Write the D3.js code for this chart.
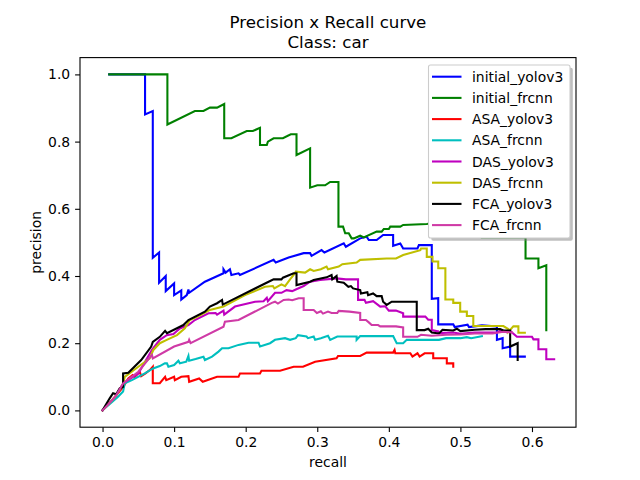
<html>
<head>
<meta charset="utf-8">
<script src="https://d3js.org/d3.v7.min.js"></script>
<style>
  body { margin: 0; background: #fff; }
  text { font-family: "DejaVu Sans", sans-serif; }
</style>
</head>
<body>
<script>
// precision x recall points [recall, precision]
var initialYolov3 = [[0.0093,1.0],[0.0594,1.0],[0.0594,0.881],[0.0702,0.891],[0.0702,0.454],[0.079,0.47],[0.079,0.38],[0.0883,0.40],[0.0883,0.355],[0.1,0.378],[0.1,0.343],[0.11,0.357],[0.11,0.33],[0.1177,0.343],[0.12,0.36],[0.121,0.35],[0.143,0.383],[0.169,0.408],[0.169,0.42],[0.172,0.41],[0.178,0.42],[0.18,0.403],[0.19,0.408],[0.192,0.403],[0.239,0.448],[0.242,0.44],[0.26,0.455],[0.281,0.468],[0.29,0.468],[0.292,0.46],[0.306,0.477],[0.31,0.47],[0.337,0.497],[0.34,0.487],[0.36,0.512],[0.369,0.517],[0.372,0.507],[0.383,0.507],[0.392,0.522],[0.406,0.522],[0.406,0.49],[0.416,0.497],[0.42,0.482],[0.44,0.482],[0.442,0.492],[0.46,0.492],[0.46,0.332],[0.469,0.334],[0.469,0.256],[0.49,0.256],[0.492,0.248],[0.51,0.255],[0.512,0.248],[0.53,0.253],[0.551,0.25],[0.551,0.21],[0.559,0.215],[0.559,0.185],[0.5695,0.19],[0.5695,0.16],[0.59,0.16]];
var initialFrcnn = [[0.0093,1.0],[0.0906,1.0],[0.0906,0.851],[0.129,0.891],[0.141,0.891],[0.150,0.901],[0.160,0.901],[0.170,0.912],[0.170,0.81],[0.180,0.81],[0.2015,0.8315],[0.21,0.8315],[0.220,0.841],[0.220,0.79],[0.2295,0.79],[0.231,0.80],[0.239,0.81],[0.252,0.81],[0.263,0.822],[0.271,0.822],[0.271,0.76],[0.290,0.78],[0.290,0.663],[0.300,0.67],[0.311,0.67],[0.318,0.68],[0.3296,0.68],[0.3296,0.547],[0.336,0.547],[0.339,0.527],[0.344,0.527],[0.348,0.512],[0.351,0.512],[0.36,0.52],[0.365,0.515],[0.383,0.532],[0.39,0.532],[0.393,0.54],[0.40,0.54],[0.402,0.547],[0.416,0.547],[0.42,0.552],[0.453,0.555],[0.47,0.56],[0.47,0.53],[0.50,0.54],[0.50,0.52],[0.53,0.53],[0.53,0.515],[0.591,0.515],[0.591,0.452],[0.609,0.452],[0.609,0.423],[0.62,0.432],[0.62,0.239]];
var asaYolov3 = [[0,0],[0.0175,0.041],[0.029,0.07],[0.036,0.095],[0.042,0.105],[0.045,0.1],[0.052,0.115],[0.054,0.102],[0.06,0.11],[0.066,0.12],[0.0702,0.13],[0.0702,0.081],[0.08,0.081],[0.0874,0.10],[0.089,0.09],[0.1,0.1],[0.101,0.09],[0.11,0.1],[0.12,0.102],[0.121,0.085],[0.135,0.095],[0.14,0.085],[0.16,0.1],[0.19,0.1],[0.192,0.11],[0.22,0.11],[0.222,0.118],[0.248,0.118],[0.267,0.13],[0.28,0.13],[0.297,0.145],[0.327,0.155],[0.329,0.162],[0.36,0.162],[0.369,0.172],[0.406,0.172],[0.408,0.18],[0.409,0.17],[0.43,0.17],[0.433,0.16],[0.44,0.17],[0.443,0.16],[0.45,0.17],[0.462,0.17],[0.462,0.155],[0.481,0.155],[0.481,0.14],[0.49,0.14],[0.49,0.13]];
var asaFrcnn = [[0,0],[0.0217,0.041],[0.0287,0.056],[0.031,0.081],[0.041,0.09],[0.059,0.11],[0.0706,0.125],[0.08,0.132],[0.087,0.14],[0.09,0.14],[0.092,0.13],[0.1,0.135],[0.106,0.148],[0.108,0.14],[0.117,0.145],[0.12,0.162],[0.121,0.148],[0.13,0.153],[0.141,0.16],[0.143,0.15],[0.153,0.16],[0.162,0.175],[0.167,0.185],[0.176,0.185],[0.19,0.195],[0.204,0.2015],[0.218,0.2015],[0.22,0.19],[0.234,0.2],[0.241,0.21],[0.255,0.215],[0.262,0.21],[0.27,0.215],[0.273,0.224],[0.285,0.22],[0.287,0.215],[0.295,0.22],[0.297,0.21],[0.305,0.215],[0.315,0.222],[0.318,0.21],[0.328,0.22],[0.355,0.22],[0.355,0.21],[0.36,0.221],[0.406,0.221],[0.411,0.2],[0.42,0.2],[0.425,0.21],[0.47,0.21],[0.48,0.215],[0.5,0.215],[0.509,0.218],[0.515,0.215],[0.53,0.221]];
var dasYolov3 = [[0,0],[0.0175,0.04],[0.029,0.081],[0.05,0.11],[0.069,0.18],[0.08,0.21],[0.0897,0.224],[0.099,0.227],[0.108,0.244],[0.12,0.254],[0.129,0.269],[0.148,0.289],[0.158,0.29],[0.16,0.285],[0.169,0.297],[0.17,0.285],[0.185,0.309],[0.213,0.3235],[0.225,0.325],[0.2295,0.335],[0.231,0.325],[0.241,0.35],[0.25,0.35],[0.257,0.358],[0.265,0.355],[0.27,0.36],[0.281,0.37],[0.29,0.383],[0.304,0.388],[0.327,0.393],[0.34,0.39],[0.357,0.39],[0.357,0.329],[0.366,0.329],[0.368,0.32],[0.378,0.325],[0.388,0.309],[0.395,0.31],[0.4,0.297],[0.41,0.297],[0.42,0.289],[0.42,0.279],[0.451,0.279],[0.455,0.27],[0.46,0.27],[0.46,0.239],[0.469,0.235],[0.469,0.23],[0.49,0.232],[0.5,0.228],[0.52,0.232],[0.551,0.232],[0.558,0.239],[0.565,0.232],[0.57,0.236],[0.579,0.219],[0.6,0.219],[0.602,0.2115],[0.609,0.2115],[0.609,0.182],[0.62,0.182],[0.62,0.152],[0.631,0.152]];
var dasFrcnn = [[0,0],[0.0175,0.04],[0.029,0.08],[0.031,0.1],[0.05,0.13],[0.066,0.155],[0.071,0.18],[0.08,0.2],[0.0897,0.21],[0.104,0.224],[0.115,0.244],[0.122,0.269],[0.134,0.281],[0.15,0.299],[0.169,0.309],[0.199,0.343],[0.227,0.368],[0.238,0.37],[0.24,0.363],[0.25,0.375],[0.255,0.37],[0.262,0.39],[0.267,0.403],[0.27,0.413],[0.283,0.41],[0.29,0.42],[0.295,0.415],[0.305,0.42],[0.313,0.428],[0.315,0.42],[0.33,0.428],[0.335,0.435],[0.355,0.44],[0.36,0.448],[0.397,0.452],[0.41,0.452],[0.42,0.4625],[0.444,0.477],[0.445,0.482],[0.453,0.482],[0.453,0.457],[0.461,0.457],[0.461,0.443],[0.469,0.443],[0.469,0.423],[0.479,0.423],[0.479,0.33],[0.49,0.33],[0.49,0.32],[0.4997,0.32],[0.4997,0.294],[0.509,0.294],[0.509,0.281],[0.518,0.281],[0.518,0.251],[0.56,0.251],[0.567,0.242],[0.567,0.234],[0.574,0.25],[0.581,0.25],[0.581,0.231],[0.59,0.231]];
var fcaYolov3 = [[0,0],[0.01,0.036],[0.0147,0.051],[0.019,0.048],[0.024,0.066],[0.0287,0.07],[0.0287,0.11],[0.036,0.112],[0.054,0.15],[0.068,0.19],[0.0702,0.204],[0.08,0.219],[0.0874,0.237],[0.09,0.23],[0.113,0.254],[0.12,0.269],[0.143,0.294],[0.15,0.309],[0.16,0.319],[0.167,0.3286],[0.168,0.315],[0.232,0.383],[0.239,0.39],[0.25,0.39],[0.252,0.395],[0.267,0.408],[0.271,0.408],[0.271,0.373],[0.29,0.383],[0.295,0.388],[0.313,0.396],[0.32,0.403],[0.321,0.39],[0.327,0.4],[0.328,0.383],[0.337,0.38],[0.3435,0.368],[0.347,0.37],[0.35,0.363],[0.36,0.358],[0.361,0.348],[0.37,0.352],[0.371,0.343],[0.378,0.348],[0.383,0.34],[0.39,0.34],[0.392,0.3235],[0.397,0.314],[0.404,0.3235],[0.439,0.3235],[0.439,0.239],[0.45,0.239],[0.455,0.243],[0.46,0.232],[0.47,0.229],[0.475,0.24],[0.49,0.238],[0.495,0.243],[0.5,0.236],[0.52,0.24],[0.535,0.242],[0.5555,0.242],[0.56,0.238],[0.5695,0.238],[0.5695,0.19],[0.58,0.2],[0.58,0.15]];
var fcaFrcnn = [[0,0],[0.0175,0.04],[0.029,0.081],[0.05,0.115],[0.069,0.165],[0.0702,0.155],[0.1,0.19],[0.12,0.204],[0.121,0.21],[0.123,0.2],[0.169,0.249],[0.171,0.264],[0.19,0.269],[0.2365,0.32],[0.241,0.3235],[0.245,0.318],[0.253,0.3286],[0.26,0.33],[0.265,0.328],[0.274,0.334],[0.281,0.334],[0.281,0.299],[0.295,0.299],[0.2995,0.29],[0.305,0.295],[0.308,0.288],[0.315,0.294],[0.32,0.29],[0.328,0.29],[0.33,0.296],[0.345,0.294],[0.36,0.29],[0.36,0.269],[0.368,0.269],[0.372,0.262],[0.376,0.254],[0.385,0.254],[0.388,0.25],[0.41,0.25],[0.42,0.247],[0.42,0.219],[0.44,0.219],[0.445,0.225],[0.46,0.222],[0.48,0.225],[0.5,0.226],[0.52,0.229],[0.545,0.229],[0.56,0.234],[0.572,0.232]];

var seriesNames = ["initial_yolov3","initial_frcnn","ASA_yolov3","ASA_frcnn","DAS_yolov3","DAS_frcnn","FCA_yolov3","FCA_frcnn"];
var seriesData = [initialYolov3, initialFrcnn, asaYolov3, asaFrcnn, dasYolov3, dasFrcnn, fcaYolov3, fcaFrcnn];
var seriesColors = ["#0000ff","#008000","#ff0000","#00bfbf","#bf00bf","#bfbf00","#000000","#cf3aa6"];
var xTicks = [0.0,0.1,0.2,0.3,0.4,0.5,0.6];
var yTicks = [0.0,0.2,0.4,0.6,0.8,1.0];

var W = 640, H = 480;
var axL = 80, axR = 576, axT = 57.6, axB = 427.2;

var svg = d3.select("body").append("svg").attr("width", W).attr("height", H);

var x = d3.scaleLinear().domain([-0.0315, 0.6615]).range([axL, axR]);
var y = d3.scaleLinear().domain([-0.05, 1.05]).range([axB, axT]);

svg.append("clipPath").attr("id", "plot").append("rect")
  .attr("x", axL).attr("y", axT).attr("width", axR - axL).attr("height", axB - axT);

var line = d3.line().x(function(d){ return x(d[0]); }).y(function(d){ return y(d[1]); });

var g = svg.append("g").attr("clip-path", "url(#plot)");
seriesData.forEach(function(s, i){
  g.append("path").attr("d", line(s)).attr("fill", "none")
    .attr("stroke", seriesColors[i]).attr("stroke-width", 2.08)
    .attr("stroke-linejoin", "miter").attr("stroke-linecap", "square");
});

// axes
var xAxis = d3.axisBottom(x).tickValues(xTicks).tickFormat(d3.format(".1f")).tickSize(4.9).tickPadding(4.9);
var yAxis = d3.axisLeft(y).tickValues(yTicks).tickFormat(d3.format(".1f")).tickSize(4.9).tickPadding(4.9);
var gx = svg.append("g").attr("transform", "translate(0," + axB + ")").call(xAxis);
var gy = svg.append("g").attr("transform", "translate(" + axL + ",0)").call(yAxis);
[gx, gy].forEach(function(a){
  a.select(".domain").remove();
  a.selectAll("line").attr("stroke", "#000").attr("stroke-width", 1.1);
  a.selectAll("text").attr("fill", "#000").style("font-size", "13.9px").style("font-family", "DejaVu Sans");
});

svg.append("rect").attr("x", axL).attr("y", axT).attr("width", axR - axL).attr("height", axB - axT)
  .attr("fill", "none").attr("stroke", "#000").attr("stroke-width", 1.1);

// titles and labels
svg.append("text").attr("x", (axL + axR) / 2).attr("y", 28).attr("text-anchor", "middle")
  .style("font-size", "16.7px").text("Precision x Recall curve");
svg.append("text").attr("x", (axL + axR) / 2).attr("y", 48).attr("text-anchor", "middle")
  .style("font-size", "16.7px").text("Class: car");
svg.append("text").attr("x", (axL + axR) / 2).attr("y", 467).attr("text-anchor", "middle")
  .style("font-size", "13.9px").text("recall");
svg.append("text").attr("transform", "translate(41," + ((axT + axB) / 2) + ") rotate(-90)")
  .attr("text-anchor", "middle").style("font-size", "13.9px").text("precision");

// legend
var lx = 428.5, ly = 65, lw = 141.5, lh = 173;
var leg = svg.append("g");
leg.append("rect").attr("x", lx + 2.8).attr("y", ly + 2.8).attr("width", lw).attr("height", lh)
  .attr("rx", 2).attr("fill", "#808080").attr("opacity", 0.5);
leg.append("rect").attr("x", lx).attr("y", ly).attr("width", lw).attr("height", lh)
  .attr("rx", 2).attr("fill", "#fff").attr("stroke", "#ccc").attr("stroke-width", 1.1);
seriesNames.forEach(function(n, i){
  var yy = 76.7 + i * 21.2;
  leg.append("line").attr("x1", 432).attr("x2", 461.5).attr("y1", yy).attr("y2", yy)
    .attr("stroke", seriesColors[i]).attr("stroke-width", 2.08);
  leg.append("text").attr("x", 472).attr("y", yy + 5).style("font-size", "13.9px").text(n);
});
</script>
</body>
</html>
